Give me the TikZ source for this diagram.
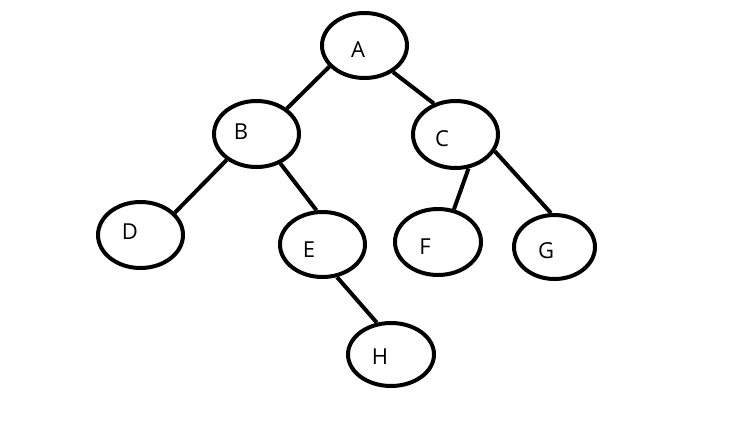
\documentclass[tikz,border=0pt]{standalone}
\usepackage{fontspec}
\setmainfont{Open Sans}
\usetikzlibrary{shapes.geometric}
\begin{document}
\begin{tikzpicture}[x=1pt,y=-1pt,
  treenode/.style={ellipse,draw=black,line width=4pt,inner sep=0pt,minimum width=85pt,minimum height=66pt},
  lbl/.style={inner sep=0pt,font=\fontsize{22}{26}\selectfont},
  edge/.style={line width=4pt,black}]
\useasboundingbox[fill=white] (0,0) rectangle (749,428);
\node[treenode,minimum height=65pt] (A) at (364.5,45.5) {};
\node[treenode] (B) at (256.5,134) {};
\node[treenode,minimum height=67pt] (C) at (455.5,134.5) {};
\node[treenode] (D) at (140.5,235) {};
\node[treenode,minimum height=65pt] (E) at (322.5,244.5) {};
\node[treenode,minimum width=86pt] (F) at (438,242) {};
\node[treenode,minimum width=81pt,minimum height=64pt] (G) at (554.5,247) {};
\node[treenode,minimum width=86pt,minimum height=63pt] (H) at (391,354.5) {};
\node[lbl] (tA) at (358,50) {A};
\node[lbl] (tB) at (241,132) {B};
\node[lbl] (tC) at (442,139) {C};
\node[lbl] (tD) at (130,232) {D};
\node[lbl] (tE) at (309,250) {E};
\node[lbl] (tF) at (425,247) {F};
\node[lbl] (tG) at (546,251) {G};
\node[lbl] (tH) at (380,357) {H};
\draw[edge] (A.211) -- (B.40);
\draw[edge] (A.317) -- (C.125);
\draw[edge] (B.221) -- (D.33);
\draw[edge] (B.309) -- (E.100);
\draw[edge] (C.291) -- (F.64);
\draw[edge] (C.337) -- (G.96);
\draw[edge] (E.294) -- (H.114);
\end{tikzpicture}
\end{document}
